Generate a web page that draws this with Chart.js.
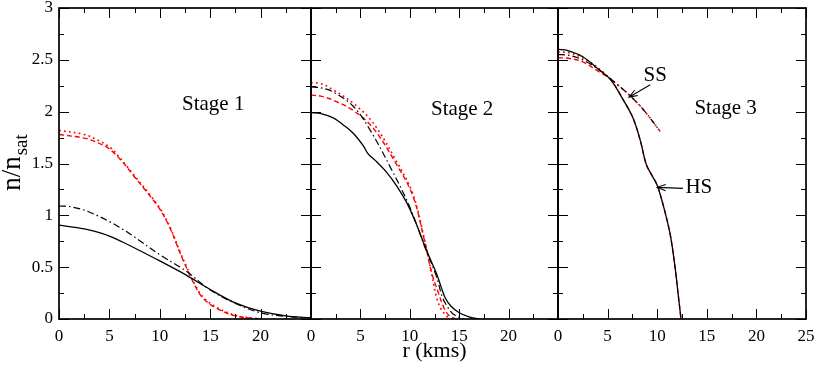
<!DOCTYPE html>
<html>
<head>
<meta charset="utf-8">
<script src="https://cdn.jsdelivr.net/npm/chart.js@4.4.0/dist/chart.umd.min.js"></script>
<style>
  body { margin: 0; background: #fff; }
  #wrap { position: relative; width: 817px; height: 365px; }
  #wrap canvas { position: absolute; left: 0; top: 0; }
</style>
</head>
<body>
<div id="wrap">
  <canvas id="c1" width="817" height="365"></canvas>
  <canvas id="c2" width="817" height="365"></canvas>
  <canvas id="c3" width="817" height="365"></canvas>
</div>
<script>
const FONT = "'Liberation Serif', 'Times New Roman', serif";

// axis ticks
const xTicks = [0, 5, 10, 15, 20, 25];
const yTicks = [0, 0.5, 1, 1.5, 2, 2.5, 3];

// Stage 1
const r1Solid   = [0, 2.5, 3.75, 5, 6.25, 7.5, 10, 12.5, 15, 17.5, 20, 22.5, 25];
const n1Solid   = [0.905, 0.87, 0.84, 0.80, 0.745, 0.685, 0.56, 0.43, 0.285, 0.155, 0.075, 0.03, 0.01];
const r1DashDot = [0, 1, 2.5, 3.75, 5, 6.25, 7.5, 10, 12.5, 15, 17.5, 20, 22.5, 25];
const n1DashDot = [1.09, 1.085, 1.05, 1.0, 0.94, 0.87, 0.79, 0.62, 0.47, 0.28, 0.15, 0.06, 0.025, 0.01];
const r1Red       = [0, 2.5, 3.75, 5, 6.25, 7.5, 9, 10, 11, 12, 12.9, 13.5, 14.2, 15.5, 17.5, 20];
const n1RedDashed = [1.78, 1.745, 1.705, 1.64, 1.52, 1.37, 1.19, 1.06, 0.88, 0.64, 0.44, 0.32, 0.21, 0.11, 0.03, 0];
const n1RedDotted = [1.82, 1.78, 1.73, 1.66, 1.53, 1.38, 1.20, 1.07, 0.89, 0.65, 0.45, 0.33, 0.22, 0.12, 0.035, 0];

// Stage 2
const r2Solid   = [0, 1, 2.25, 3.3, 4.3, 5.3, 5.8, 6.5, 7.7, 8.7, 9.7, 10.6, 11.5, 12.2, 12.7, 13.2, 13.6, 14.2, 15, 16, 17];
const n2Solid   = [1.99, 1.98, 1.94, 1.87, 1.79, 1.67, 1.59, 1.53, 1.41, 1.28, 1.12, 0.93, 0.71, 0.55, 0.44, 0.30, 0.20, 0.12, 0.06, 0.02, 0];
const r2DashDot = [0, 1, 2.25, 4.3, 6, 8, 10, 11.5, 12.7, 13.3, 14, 14.5, 15.5];
const n2DashDot = [2.24, 2.23, 2.19, 2.05, 1.82, 1.47, 1.08, 0.70, 0.41, 0.21, 0.09, 0.04, 0];
const r2Dotted  = [0, 1, 2.25, 4.3, 6.3, 8.6, 10.3, 11.5, 12.2, 12.7, 13.2, 13.9];
const n2Dotted  = [2.28, 2.27, 2.21, 2.08, 1.89, 1.53, 1.21, 0.76, 0.44, 0.21, 0.09, 0.01];
const r2Dashed  = [0, 1, 2.25, 4.3, 6.3, 8.6, 10.3, 11.5, 12.2, 12.9, 13.4, 13.9, 14.6];
const n2Dashed  = [2.16, 2.15, 2.11, 2.01, 1.84, 1.50, 1.19, 0.75, 0.45, 0.25, 0.12, 0.04, 0];

// Stage 3 (HS = hybrid branch, SS = strange branch)
const r3Hs       = [0, 1, 2.5, 4.2, 5.3, 6.6, 7.6, 8.3, 8.9, 9.5, 10, 10.6, 11.3, 11.8, 12.1, 12.4];
const n3HsSolid  = [2.60, 2.59, 2.53, 2.40, 2.31, 2.11, 1.93, 1.72, 1.49, 1.38, 1.29, 1.10, 0.82, 0.50, 0.25, 0];
const n3HsDashed = [2.52, 2.515, 2.48, 2.38, 2.31, 2.11, 1.93, 1.72, 1.49, 1.38, 1.29, 1.10, 0.82, 0.50, 0.25, 0];
const r3Ss        = [0, 1, 2.5, 4.2, 5, 6, 7.2, 8.6, 10.3];
const n3SsDashDot = [2.55, 2.545, 2.50, 2.40, 2.34, 2.26, 2.16, 2.02, 1.81];
const n3SsDotted  = [2.575, 2.57, 2.52, 2.41, 2.34, 2.26, 2.16, 2.02, 1.81];

const pts = (xs, ys) => xs.map((x, i) => ({ x, y: ys[i] }));

const STYLE = {
  solid:   { borderColor: '#000', borderWidth: 1.3, borderDash: [] },
  dashdot: { borderColor: '#000', borderWidth: 1.2, borderDash: [7, 3, 1.5, 3] },
  dashed:  { borderColor: '#f00', borderWidth: 1.4, borderDash: [5, 3] },
  dotted:  { borderColor: '#f00', borderWidth: 1.7, borderDash: [1.7, 3.3] },
};

function line(xs, ys, style) {
  return {
    data: pts(xs, ys),
    ...STYLE[style],
    pointRadius: 0,
    fill: false,
    tension: 0.35,
  };
}

// inward ticks on all four sides plus the panel box
const framePlugin = {
  id: 'frame',
  afterDraw(chart) {
    const { ctx, chartArea: a, scales: { x, y } } = chart;
    ctx.save();
    ctx.strokeStyle = '#000';
    ctx.lineWidth = 1;
    ctx.beginPath();
    for (let v = 0; v <= 25; v += 2.5) {
      const px = Math.round(x.getPixelForValue(v)) + 0.5;
      const len = v % 5 === 0 ? 10 : 5;
      ctx.moveTo(px, a.bottom); ctx.lineTo(px, a.bottom - len);
      ctx.moveTo(px, a.top); ctx.lineTo(px, a.top + len);
    }
    for (let v = 0; v <= 3; v += 0.25) {
      const py = Math.round(y.getPixelForValue(v)) + 0.5;
      const len = v % 0.5 === 0 ? 10 : 5;
      ctx.moveTo(a.left, py); ctx.lineTo(a.left + len, py);
      ctx.moveTo(a.right, py); ctx.lineTo(a.right - len, py);
    }
    ctx.stroke();
    ctx.lineWidth = 1.7;
    ctx.strokeRect(a.left, a.top, a.right - a.left, a.bottom - a.top);
    ctx.restore();
  }
};

// stage labels, SS/HS arrows, y title
const notesPlugin = {
  id: 'notes',
  afterDraw(chart, args, opts) {
    const { ctx, scales: { x, y } } = chart;
    ctx.save();
    ctx.fillStyle = '#000';
    ctx.strokeStyle = '#000';
    ctx.textAlign = 'center';
    ctx.textBaseline = 'middle';
    ctx.font = `21px ${FONT}`;
    (opts.texts || []).forEach(t => {
      ctx.fillText(t.text, x.getPixelForValue(t.x), y.getPixelForValue(t.y));
    });
    (opts.arrows || []).forEach(ar => {
      const x0 = x.getPixelForValue(ar.from[0]), y0 = y.getPixelForValue(ar.from[1]);
      const x1 = x.getPixelForValue(ar.to[0]), y1 = y.getPixelForValue(ar.to[1]);
      ctx.lineWidth = 1.1;
      ctx.beginPath();
      ctx.moveTo(x0, y0); ctx.lineTo(x1, y1);
      const ang = Math.atan2(y1 - y0, x1 - x0);
      const h = 9, w = 0.35;
      ctx.moveTo(x1 - h * Math.cos(ang - w), y1 - h * Math.sin(ang - w));
      ctx.lineTo(x1, y1);
      ctx.lineTo(x1 - h * Math.cos(ang + w), y1 - h * Math.sin(ang + w));
      ctx.stroke();
    });
    if (opts.yTitle) {
      ctx.translate(12, 163);
      ctx.rotate(-Math.PI / 2);
      ctx.textAlign = 'left';
      ctx.textBaseline = 'alphabetic';
      const main = 'n/n';
      ctx.font = `27px ${FONT}`;
      const wMain = ctx.measureText(main).width;
      ctx.font = `19px ${FONT}`;
      const wSub = ctx.measureText('sat').width;
      const start = -(wMain + wSub) / 2;
      ctx.font = `27px ${FONT}`;
      ctx.fillText(main, start, 8);
      ctx.font = `19px ${FONT}`;
      ctx.fillText('sat', start + wMain + 1, 15);
    }
    ctx.restore();
  }
};

function makeChart(id, datasets, panel) {
  const first = panel.index === 0;
  return new Chart(document.getElementById(id), {
    type: 'line',
    data: { datasets },
    plugins: [framePlugin, notesPlugin],
    options: {
      responsive: false,
      animation: false,
      events: [],
      layout: { padding: { left: panel.left, right: 817 - panel.right, top: 8, bottom: 0 } },
      plugins: {
        legend: { display: false },
        tooltip: { enabled: false },
        notes: panel.notes,
      },
      scales: {
        x: {
          type: 'linear',
          min: 0, max: 25,
          afterBuildTicks: s => { s.ticks = xTicks.map(v => ({ value: v })); },
          afterFit: s => { s.height = 46; s.paddingLeft = 0; s.paddingRight = 0; },
          grid: { display: false, drawTicks: false },
          border: { display: false },
          ticks: {
            padding: 7,
            maxRotation: 0,
            autoSkip: false,
            color: '#000',
            font: { family: FONT, size: 17 },
            callback: v => (v === 25 && !panel.showLast) ? '' : String(v),
          },
          title: {
            display: !!panel.xTitle,
            text: panel.xTitle || '',
            color: '#000',
            font: { family: FONT, size: 22 },
            padding: { top: 0, bottom: 1 },
          },
        },
        y: {
          type: 'linear',
          display: first,
          min: 0, max: 3,
          afterBuildTicks: s => { s.ticks = yTicks.map(v => ({ value: v })); },
          afterFit: s => { s.width = panel.left === 0 ? 59 : 0; s.paddingTop = 0; s.paddingBottom = 0; },
          grid: { display: false, drawTicks: false },
          border: { display: false },
          ticks: {
            padding: 6,
            color: '#000',
            font: { family: FONT, size: 17 },
            callback: v => String(v),
          },
        },
      },
    },
  });
}

makeChart('c1', [
  line(r1Solid, n1Solid, 'solid'),
  line(r1DashDot, n1DashDot, 'dashdot'),
  line(r1Red, n1RedDashed, 'dashed'),
  line(r1Red, n1RedDotted, 'dotted'),
], {
  index: 0, left: 0, right: 311, showLast: false,
  notes: { texts: [{ text: 'Stage 1', x: 15.3, y: 2.07 }], yTitle: true },
});

makeChart('c2', [
  line(r2Solid, n2Solid, 'solid'),
  line(r2DashDot, n2DashDot, 'dashdot'),
  line(r2Dashed, n2Dashed, 'dashed'),
  line(r2Dotted, n2Dotted, 'dotted'),
], {
  index: 1, left: 311, right: 558, showLast: false, xTitle: 'r (kms)',
  notes: { texts: [{ text: 'Stage 2', x: 15.3, y: 2.02 }] },
});

makeChart('c3', [
  line(r3Hs, n3HsSolid, 'solid'),
  line(r3Ss, n3SsDashDot, 'dashdot'),
  line(r3Hs, n3HsDashed, 'dashed'),
  line(r3Ss, n3SsDotted, 'dotted'),
], {
  index: 2, left: 558, right: 806, showLast: true,
  notes: {
    texts: [
      { text: 'Stage 3', x: 16.9, y: 2.03 },
      { text: 'SS', x: 9.8, y: 2.35 },
      { text: 'HS', x: 14.2, y: 1.27 },
    ],
    arrows: [
      { from: [9.3, 2.26], to: [7.15, 2.14] },
      { from: [12.6, 1.26], to: [10.0, 1.27] },
    ],
  },
});
</script>
</body>
</html>
